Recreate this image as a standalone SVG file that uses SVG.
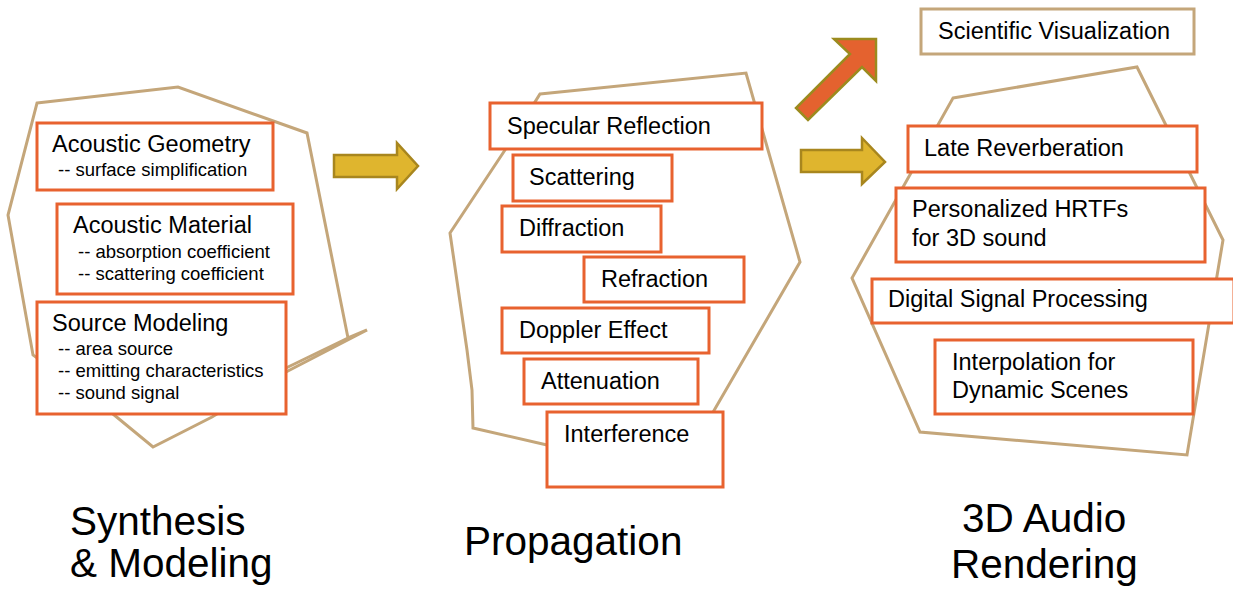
<svg xmlns="http://www.w3.org/2000/svg" width="1233" height="591" viewBox="0 0 1233 591">
<style>
.poly{fill:none;stroke:#C4A67A;stroke-width:3;stroke-linejoin:miter}
.box{fill:#fff;stroke:#E8622F;stroke-width:3}
.tbox{fill:#fff;stroke:#C4A67A;stroke-width:3}
.t{font-family:"Liberation Sans",Arial,sans-serif;font-size:23.5px;fill:#000}
.s{font-family:"Liberation Sans",Arial,sans-serif;font-size:18.5px;fill:#000}
.big{font-family:"Liberation Sans",Arial,sans-serif;font-size:40.5px;fill:#000}
.garrow{fill:#DFB52E;stroke:#A8861E;stroke-width:2.5}
.oarrow{fill:#E4622F;stroke:#9B8B1E;stroke-width:2.5}
</style>
<rect width="1233" height="591" fill="#fff"/>
<g id="outlines">
<polygon class="poly" points="37,103 178,87 307,133 348,338 367,330 286,372 212,417 153,447 113,414 33,355 8,215"/>
<line class="poly" x1="348" y1="338" x2="286" y2="368"/>
<polygon class="poly" points="540,94 746,73 800,262 712,414 640,460 547,445 473,428 472,390 467,350 450,233 505,150"/>
<polygon class="poly" points="953,98 1137,67 1223,240 1187,455 920,432 852,278"/>
</g>
<g id="connectors">
<polygon class="garrow" points="334,155 397,155 397,143 418,166 397,189 397,177 334,177"/>
<polygon class="garrow" points="801,150 862,150 862,138 885,162 862,184 862,172 801,172"/>
<polygon class="oarrow" points="876,39 876,81 862,67 808,120 796,108 850,54 834,39"/>
</g>
<g id="synthesis">
<g id="acoustic-geometry">
<rect class="box" x="37" y="123" width="236" height="67"/>
<text class="t" x="52" y="152">Acoustic Geometry</text>
<text class="s" x="58" y="176">-- surface simplification</text>
</g>
<g id="acoustic-material">
<rect class="box" x="57" y="204" width="236" height="90"/>
<text class="t" x="73" y="233">Acoustic Material</text>
<text class="s" x="78" y="258">-- absorption coefficient</text>
<text class="s" x="78" y="280">-- scattering coefficient</text>
</g>
<g id="source-modeling">
<rect class="box" x="37" y="302" width="249" height="112"/>
<text class="t" x="52" y="331">Source Modeling</text>
<text class="s" x="58" y="355">-- area source</text>
<text class="s" x="58" y="377">-- emitting characteristics</text>
<text class="s" x="58" y="399">-- sound signal</text>
</g>
<text class="big" x="70" y="535">Synthesis</text>
<text class="big" x="70" y="577">&amp; Modeling</text>
</g>
<g id="propagation">
<g id="specular"><rect class="box" x="490" y="103" width="272" height="46"/><text class="t" x="507" y="134">Specular Reflection</text></g>
<g id="scattering"><rect class="box" x="513" y="155" width="159" height="46"/><text class="t" x="529" y="185">Scattering</text></g>
<g id="diffraction"><rect class="box" x="502" y="206" width="159" height="46"/><text class="t" x="519" y="236">Diffraction</text></g>
<g id="refraction"><rect class="box" x="584" y="257" width="160" height="45"/><text class="t" x="601" y="287">Refraction</text></g>
<g id="doppler"><rect class="box" x="502" y="308" width="207" height="45"/><text class="t" x="519" y="338">Doppler Effect</text></g>
<g id="attenuation"><rect class="box" x="524" y="359" width="174" height="45"/><text class="t" x="541" y="389">Attenuation</text></g>
<g id="interference"><rect class="box" x="547" y="412" width="176" height="75"/><text class="t" x="564" y="442">Interference</text></g>
<text class="big" x="464" y="555">Propagation</text>
</g>
<g id="rendering">
<g id="sci-vis"><rect class="tbox" x="921" y="9" width="273" height="45"/><text class="t" x="938" y="39">Scientific Visualization</text></g>
<g id="late-reverb"><rect class="box" x="908" y="126" width="289" height="46"/><text class="t" x="924" y="156">Late Reverberation</text></g>
<g id="hrtf"><rect class="box" x="896" y="188" width="309" height="74"/><text class="t" x="912" y="217">Personalized HRTFs</text><text class="t" x="912" y="246">for 3D sound</text></g>
<g id="dsp"><rect class="box" x="872" y="279" width="362" height="44"/><text class="t" x="888" y="307">Digital Signal Processing</text></g>
<g id="interp"><rect class="box" x="935" y="340" width="258" height="74"/><text class="t" x="952" y="370">Interpolation for</text><text class="t" x="952" y="398">Dynamic Scenes</text></g>
<text class="big" x="962" y="532">3D Audio</text>
<text class="big" x="951" y="578">Rendering</text>
</g>
</svg>
